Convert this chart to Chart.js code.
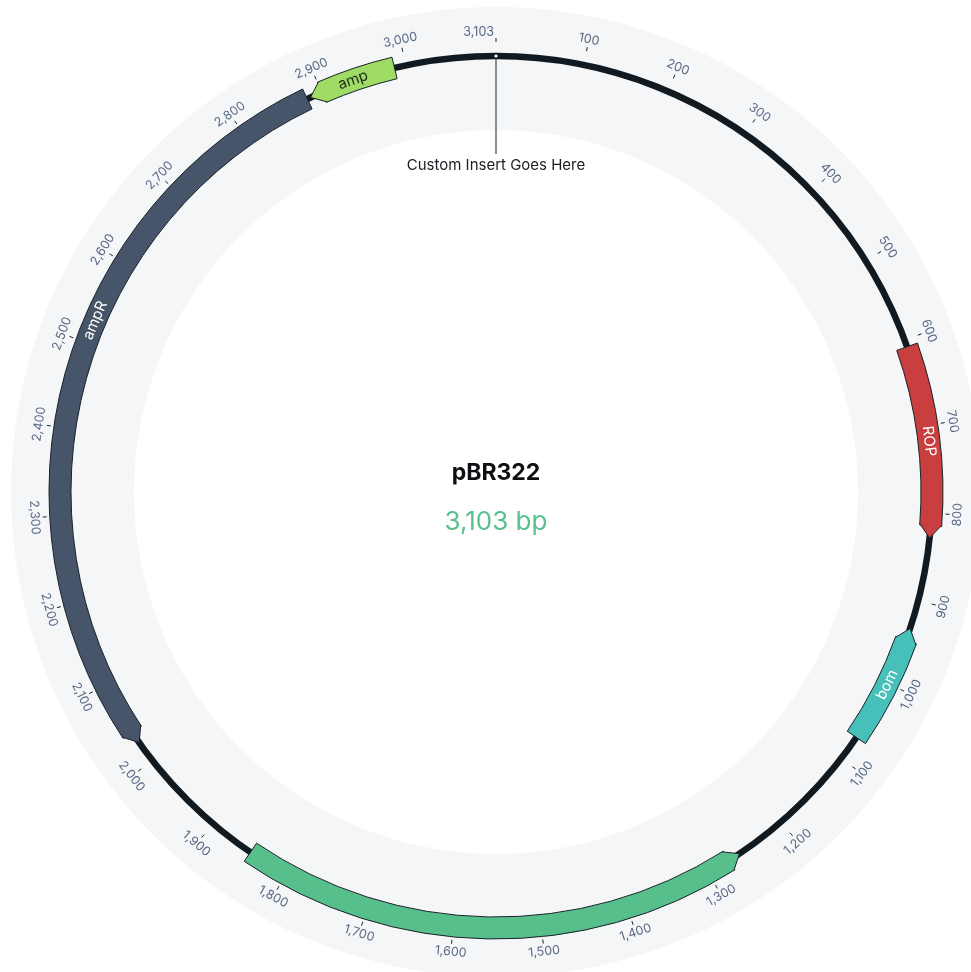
<!DOCTYPE html>
<html><head><meta charset="utf-8">
<script src="https://cdn.jsdelivr.net/npm/chart.js@4/dist/chart.umd.min.js"></script>
<style>html,body{margin:0;padding:0;background:#fff;overflow:hidden}canvas{display:block}</style>
</head><body>
<canvas id="c" width="971" height="972"></canvas>
<script>
// ---- data ----
const plasmidName = 'pBR322';
const seqLength = 3103;
const featureNames   = ['ROP', 'bom', '', 'ampR', 'amp'];
const featureStart   = [608, 933, 1259, 2025, 2886];
const featureEnd     = [828, 1071, 1847, 2882, 2987];
const featureStrand  = [1, -1, -1, -1, -1];
const featureLabelAt = [718, 1002, 1553, 2527, 2938];
const tickPositions  = [100, 200, 300, 400, 500, 600, 700, 800, 900, 1000, 1100, 1200, 1300, 1400, 1500,
                        1600, 1700, 1800, 1900, 2000, 2100, 2200, 2300, 2400, 2500, 2600, 2700, 2800, 2900, 3000, 3103];
const tickLabels     = ['100', '200', '300', '400', '500', '600', '700', '800', '900', '1,000', '1,100', '1,200', '1,300', '1,400', '1,500',
                        '1,600', '1,700', '1,800', '1,900', '2,000', '2,100', '2,200', '2,300', '2,400', '2,500', '2,600', '2,700', '2,800', '2,900', '3,000', '3,103'];
const insertPosition = 0;
const insertLabel = 'Custom Insert Goes Here';
const lengthLabel = '3,103 bp';

// ---- style ----
const featureColors = ['#c93e3e', '#48c0ba', '#56bf8b', '#465569', '#9edc66'];
const labelColors   = ['#ffffff', '#ffffff', '#ffffff', '#ffffff', '#1e2a18'];
const HEAD_BP = 14;
const FONT = 'Inter, "Noto Sans", sans-serif';

// build slices (gap / body / head) from the feature arrays
const sliceValues = [], sliceColors = [], sliceBorder = [], sliceKind = [], sliceFeature = [];
function pushSlice(v, kind, f) {
  sliceValues.push(v); sliceKind.push(kind); sliceFeature.push(f);
  sliceColors.push(kind === 'body' ? featureColors[f] : 'rgba(0,0,0,0)');
  sliceBorder.push(kind === 'body' ? 1 : 0);
}
let cursor = 0;
featureStart.forEach((s, i) => {
  const e = featureEnd[i];
  if (s > cursor) pushSlice(s - cursor, 'gap', -1);
  if (featureStrand[i] > 0) { pushSlice(e - s - HEAD_BP, 'body', i); pushSlice(HEAD_BP, 'head', i); }
  else { pushSlice(HEAD_BP, 'head', i); pushSlice(e - s - HEAD_BP, 'body', i); }
  cursor = e;
});
if (cursor < seqLength) pushSlice(seqLength - cursor, 'gap', -1);

const R_MID = 436, HALF = 11;

function posAngle(chart, pos) {
  const a0 = chart.getDatasetMeta(0).data[0].startAngle;
  return a0 + pos / seqLength * Math.PI * 2;
}
function textRot(angle) {
  let th = angle + Math.PI / 2;
  th = ((th % (2 * Math.PI)) + 2 * Math.PI) % (2 * Math.PI);
  return (th > Math.PI / 2 && th < 3 * Math.PI / 2) ? th - Math.PI : th;
}

const plasmidPlugin = {
  id: 'plasmid',
  beforeDatasetsDraw(chart) {
    const ctx = chart.ctx;
    const arc0 = chart.getDatasetMeta(0).data[0];
    const cx = arc0.x, cy = arc0.y;
    ctx.save();
    // light ring
    ctx.beginPath();
    ctx.arc(cx, cy, 485, 0, Math.PI * 2);
    ctx.arc(cx, cy, 362, 0, Math.PI * 2, true);
    ctx.fillStyle = '#f4f6f8';
    ctx.fill('evenodd');
    // backbone
    ctx.beginPath();
    ctx.arc(cx, cy, R_MID, 0, Math.PI * 2);
    ctx.strokeStyle = '#121a21';
    ctx.lineWidth = 6.5;
    ctx.stroke();
    // ticks
    ctx.strokeStyle = '#1b2228';
    ctx.lineWidth = 1;
    ctx.font = '12.5px ' + FONT;
    ctx.fillStyle = '#5a6985';
    ctx.textBaseline = 'middle';
    tickPositions.forEach((p, i) => {
      const a = posAngle(chart, p);
      const c = Math.cos(a), s = Math.sin(a);
      ctx.beginPath();
      ctx.moveTo(cx + c * 450, cy + s * 450);
      ctx.lineTo(cx + c * 454, cy + s * 454);
      ctx.stroke();
      const lr = 462;
      ctx.save();
      ctx.translate(cx + c * lr, cy + s * lr);
      ctx.rotate(textRot(a));
      if (p === seqLength) { ctx.textAlign = 'right'; ctx.fillText(tickLabels[i], -2, 2); }
      else { ctx.textAlign = 'center'; ctx.fillText(tickLabels[i], 0, 0); }
      ctx.restore();
    });
    ctx.restore();
  },
  afterDatasetsDraw(chart) {
    const ctx = chart.ctx;
    const meta = chart.getDatasetMeta(0);
    const arc0 = meta.data[0];
    const cx = arc0.x, cy = arc0.y;
    ctx.save();
    // arrow heads
    meta.data.forEach((el, k) => {
      if (sliceKind[k] !== 'head') return;
      const f = sliceFeature[k];
      const p = el.getProps(['startAngle', 'endAngle', 'innerRadius', 'outerRadius']);
      const rm = (p.innerRadius + p.outerRadius) / 2;
      const d = 1.2 / rm;
      let base, tip;
      if (featureStrand[f] > 0) { base = p.startAngle - d; tip = p.endAngle; }
      else { base = p.endAngle + d; tip = p.startAngle; }
      const pt = (r, a) => [cx + Math.cos(a) * r, cy + Math.sin(a) * r];
      const o = pt(p.outerRadius, base), t = pt(rm, tip), n = pt(p.innerRadius, base);
      ctx.beginPath();
      ctx.moveTo(o[0], o[1]);
      ctx.lineTo(t[0], t[1]);
      ctx.lineTo(n[0], n[1]);
      ctx.closePath();
      ctx.fillStyle = featureColors[f];
      ctx.fill();
      ctx.beginPath();
      ctx.moveTo(o[0], o[1]);
      ctx.lineTo(t[0], t[1]);
      ctx.lineTo(n[0], n[1]);
      ctx.strokeStyle = '#1b2228';
      ctx.lineWidth = 1;
      ctx.lineJoin = 'miter';
      ctx.stroke();
    });
    // feature labels
    ctx.font = '15px ' + FONT;
    ctx.textAlign = 'center';
    ctx.textBaseline = 'middle';
    featureNames.forEach((name, i) => {
      if (!name) return;
      const a = posAngle(chart, featureLabelAt[i]);
      ctx.save();
      ctx.translate(cx + Math.cos(a) * R_MID, cy + Math.sin(a) * R_MID);
      ctx.rotate(textRot(a));
      ctx.fillStyle = labelColors[i];
      ctx.fillText(name, 0, 0);
      ctx.restore();
    });
    // insert marker
    const ia = posAngle(chart, insertPosition);
    const ic = Math.cos(ia), is = Math.sin(ia);
    ctx.strokeStyle = '#1b2228';
    ctx.lineWidth = 1;
    ctx.beginPath();
    ctx.moveTo(cx + ic * 433, cy + is * 433);
    ctx.lineTo(cx + ic * 338, cy + is * 338);
    ctx.stroke();
    ctx.beginPath();
    ctx.arc(cx + ic * R_MID, cy + is * R_MID, 1.6, 0, Math.PI * 2);
    ctx.fillStyle = '#ffffff';
    ctx.fill();
    ctx.font = '15px ' + FONT;
    ctx.fillStyle = '#1a1d21';
    ctx.fillText(insertLabel, cx + ic * 327, cy + is * 327);
    // center text
    ctx.font = 'bold 23px ' + FONT;
    ctx.fillStyle = '#0d0f12';
    ctx.fillText(plasmidName, cx, cy - 19);
    ctx.font = '26px ' + FONT;
    ctx.fillStyle = '#5bc08e';
    ctx.fillText(lengthLabel, cx, cy + 30);
    ctx.restore();
  }
};

new Chart(document.getElementById('c'), {
  type: 'doughnut',
  data: {
    labels: sliceKind.map((k, i) => k === 'gap' ? '' : featureNames[sliceFeature[i]]),
    datasets: [{
      data: sliceValues,
      backgroundColor: sliceColors,
      borderColor: '#1b2228',
      borderWidth: sliceBorder,
      borderAlign: 'center',
      hoverOffset: 0
    }]
  },
  options: {
    responsive: false,
    animation: false,
    radius: R_MID + HALF,
    cutout: ((R_MID - HALF) / (R_MID + HALF) * 100) + '%',
    layout: { padding: { left: 21, right: 0, top: 12, bottom: 0 } },
    plugins: { legend: { display: false }, tooltip: { enabled: false } },
    events: []
  },
  plugins: [plasmidPlugin]
});
</script>
</body></html>
